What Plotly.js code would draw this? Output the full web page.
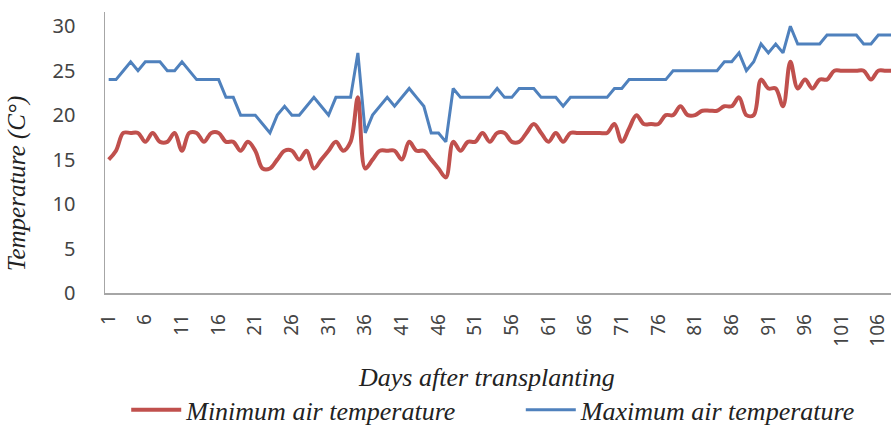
<!DOCTYPE html>
<html>
<head>
<meta charset="utf-8">
<script src="https://cdn.plot.ly/plotly-3.0.1.min.js"></script>
<style>html,body{margin:0;padding:0;background:#fff;}#chart{width:891px;height:426px;}</style>
</head>
<body>
<div id="chart"></div>
<script>
const days = [1,2,3,4,5,6,7,8,9,10,11,12,13,14,15,16,17,18,19,20,21,22,23,24,25,26,27,28,29,30,31,32,33,34,35,36,37,38,39,40,41,42,43,44,45,46,47,48,49,50,51,52,53,54,55,56,57,58,59,60,61,62,63,64,65,66,67,68,69,70,71,72,73,74,75,76,77,78,79,80,81,82,83,84,85,86,87,88,89,90,91,92,93,94,95,96,97,98,99,100,101,102,103,104,105,106,107,108];

const minTemp = [15,16,18,18,18,17,18,17,17,18,16,18,18,17,18,18,17,17,16,17,16,14,14,15,16,16,15,16,14,15,16,17,16,17,22,14,15,16,16,16,15,17,16,16,15,14,13,17,16,17,17,18,17,18,18,17,17,18,19,18,17,18,17,18,18,18,18,18,18,19,17,18.5,20,19,19,19,20,20,21,20,20,20.5,20.5,20.5,21,21,22,20,20,24,23,23,21,26,23,24,23,24,24,25,25,25,25,25,24,25,25,25];

const maxTemp = [24,24,25,26,25,26,26,26,25,25,26,25,24,24,24,24,22,22,20,20,20,19,18,20,21,20,20,21,22,21,20,22,22,22,27,18,20,21,22,21,22,23,22,21,18,18,17,23,22,22,22,22,22,23,22,22,23,23,23,22,22,22,21,22,22,22,22,22,22,23,23,24,24,24,24,24,24,25,25,25,25,25,25,25,26,26,27,25,26,28,27,28,27,30,28,28,28,28,29,29,29,29,29,28,28,29,29,29];

const xTickVals = [1,6,11,16,21,26,31,36,41,46,51,56,61,66,71,76,81,86,91,96,101,106];
const xTickText = ["1","6","11","16","21","26","31","36","41","46","51","56","61","66","71","76","81","86","91","96","101","106"];
const yTickVals = [0,5,10,15,20,25,30];

const serif = "Liberation Serif, Times New Roman, serif";
const sans = "Noto Sans, Open Sans, sans-serif";

const traces = [
  {x: days, y: minTemp, type: 'scatter', mode: 'lines', name: 'Minimum air temperature', legend: 'legend',
   line: {color: '#C0504D', width: 4, shape: 'spline', smoothing: 1}},
  {x: days, y: maxTemp, type: 'scatter', mode: 'lines', name: 'Maximum air temperature', legend: 'legend2',
   line: {color: '#4F81BD', width: 3}}
];

const titleFont = {family: serif, size: 26, color: '#222', style: 'italic'};

const layout = {
  width: 891, height: 426,
  margin: {l: 105, r: 0, t: 12, b: 133, autoexpand: false},
  paper_bgcolor: '#fff', plot_bgcolor: '#fff',
  showlegend: true,
  legend: {orientation: 'h', x: 0.027, xanchor: 'left', y: -0.416, yanchor: 'middle',
           font: titleFont, itemwidth: 50, bgcolor: 'rgba(0,0,0,0)'},
  legend2: {orientation: 'h', x: 0.529, xanchor: 'left', y: -0.416, yanchor: 'middle',
           font: titleFont, itemwidth: 50, bgcolor: 'rgba(0,0,0,0)'},
  xaxis: {
    range: [0.5, 107.73], tickmode: 'array', tickvals: xTickVals, ticktext: xTickText,
    tickangle: -90, tickfont: {family: sans, size: 19, color: '#444'},
    showgrid: false, zeroline: false, showline: true, linecolor: '#a6a6a6', linewidth: 1.5,
    ticks: '', ticklabelstandoff: 12
  },
  yaxis: {
    range: [0, 31.6], tickmode: 'array', tickvals: yTickVals,
    tickfont: {family: sans, size: 20, color: '#444'},
    showgrid: false, zeroline: false, showline: true, linecolor: '#a6a6a6', linewidth: 1.5,
    ticks: '', ticklabelstandoff: 24
  },
  annotations: [
    {text: 'Days after transplanting', xref: 'paper', yref: 'paper', x: 0.486, y: -0.299,
     xanchor: 'center', yanchor: 'middle', showarrow: false, font: titleFont},
    {text: 'Temperature (C°)', xref: 'paper', yref: 'paper', x: -0.111, y: 0.39,
     xanchor: 'center', yanchor: 'middle', textangle: -90, showarrow: false,
     font: {family: serif, size: 25, color: '#222', style: 'italic'}}
  ]
};

Plotly.newPlot('chart', traces, layout, {staticPlot: true, displayModeBar: false});
</script>
</body>
</html>
